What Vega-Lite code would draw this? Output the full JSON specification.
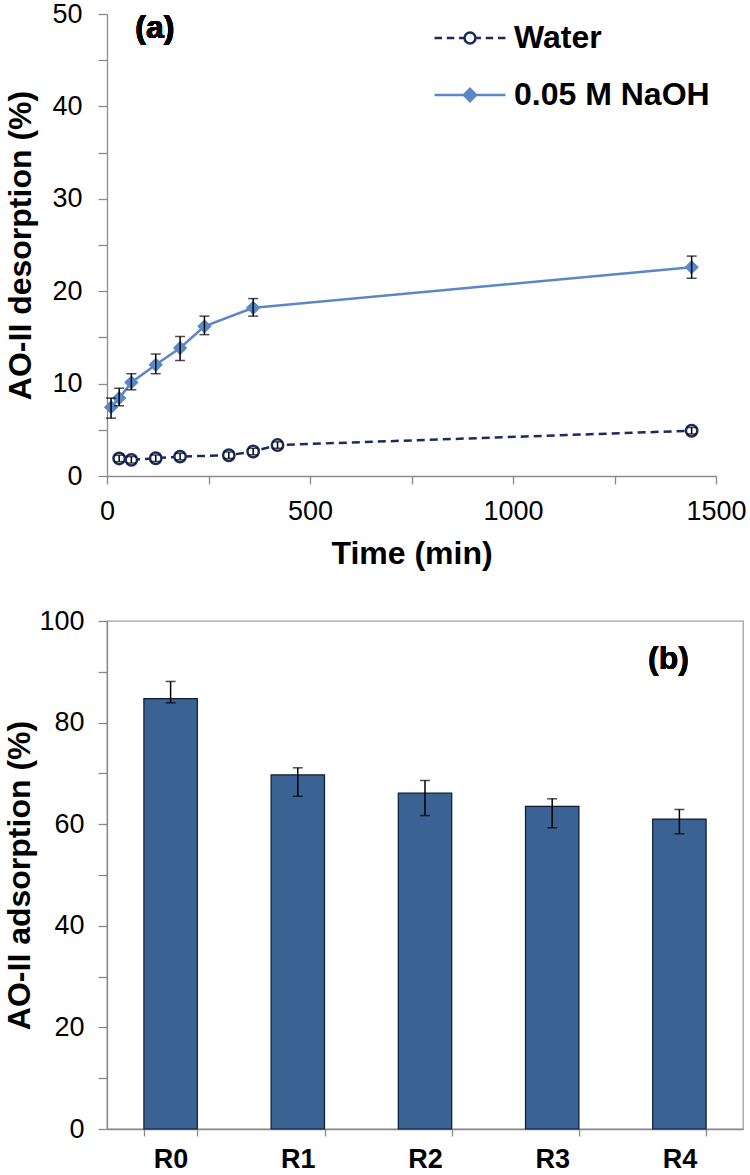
{
  "$schema": "https://vega.github.io/schema/vega-lite/v6.json",
  "background": "white",
  "padding": {"left": 3, "top": 0, "right": 3, "bottom": 0},
  "spacing": 37,
  "config": {
    "view": {"stroke": null},
    "font": "Liberation Sans",
    "axis": {
      "grid": false,
      "domainColor": "#8a8a8a",
      "tickColor": "#8a8a8a",
      "domainWidth": 1.3,
      "tickWidth": 1.3,
      "labelFont": "Liberation Sans",
      "titleFont": "Liberation Sans",
      "labelColor": "#000000",
      "titleColor": "#000000",
      "labelFontSize": 27,
      "titleFontSize": 32,
      "titleFontWeight": "bold",
      "labelFontWeight": "normal"
    }
  },
  "vconcat": [
    {
      "width": 609,
      "height": 462,
      "data": {
        "values": [
          {"series": "Water", "time": 30, "value": 1.9, "lo": 1.55, "hi": 2.25},
          {"series": "Water", "time": 60, "value": 1.75, "lo": 1.4, "hi": 2.1},
          {"series": "Water", "time": 120, "value": 1.92, "lo": 1.57, "hi": 2.27},
          {"series": "Water", "time": 180, "value": 2.1, "lo": 1.75, "hi": 2.45},
          {"series": "Water", "time": 300, "value": 2.25, "lo": 1.9, "hi": 2.6},
          {"series": "Water", "time": 360, "value": 2.65, "lo": 2.3, "hi": 3.0},
          {"series": "Water", "time": 420, "value": 3.35, "lo": 3.0, "hi": 3.7},
          {"series": "Water", "time": 1440, "value": 4.9, "lo": 4.55, "hi": 5.25},
          {"series": "0.05 M NaOH", "time": 10, "value": 7.45, "lo": 6.26, "hi": 8.43},
          {"series": "0.05 M NaOH", "time": 30, "value": 8.43, "lo": 7.6, "hi": 9.5},
          {"series": "0.05 M NaOH", "time": 60, "value": 10.13, "lo": 9.33, "hi": 11.07},
          {"series": "0.05 M NaOH", "time": 120, "value": 12.04, "lo": 11.07, "hi": 13.2},
          {"series": "0.05 M NaOH", "time": 180, "value": 13.85, "lo": 12.5, "hi": 15.1},
          {"series": "0.05 M NaOH", "time": 240, "value": 16.2, "lo": 15.3, "hi": 17.3},
          {"series": "0.05 M NaOH", "time": 360, "value": 18.2, "lo": 17.3, "hi": 19.2},
          {"series": "0.05 M NaOH", "time": 1440, "value": 22.6, "lo": 21.4, "hi": 23.8}
        ]
      },
      "layer": [
        {
          "mark": {"type": "point", "filled": true, "opacity": 0, "size": 745, "strokeWidth": 2.5},
          "encoding": {
            "x": {
              "field": "time", "type": "quantitative",
              "scale": {"domain": [0, 1500], "nice": false},
              "axis": {
                "title": "Time (min)",
                "format": "d",
                "values": [0, 250, 500, 750, 1000, 1250, 1500],
                "labelExpr": "datum.value % 500 === 0 ? datum.label : ''",
                "tickSize": 8, "labelPadding": 14, "titlePadding": 14, "labelFlush": false
              }
            },
            "y": {
              "field": "value", "type": "quantitative",
              "scale": {"domain": [0, 50], "nice": false},
              "axis": {
                "title": "AO-II desorption (%)",
                "values": [0, 5, 10, 15, 20, 25, 30, 35, 40, 45, 50],
                "labelExpr": "datum.value % 10 === 0 ? datum.label : ''",
                "tickSize": 9, "labelPadding": 16, "titlePadding": 14
              }
            },
            "shape": {
              "field": "series", "type": "nominal",
              "scale": {
                "domain": ["Water", "0.05 M NaOH"],
                "range": [
                  "M-2.6,0H-2.05M-1.7,0H-1.15M-0.8,0H-0.4M0.4,0H0.8M1.15,0H1.7M2.05,0H2.6M0.4,0A0.4,0.4,0,1,1,-0.4,0A0.4,0.4,0,1,1,0.4,0Z",
                  "M-2.6,0H2.6M0,-0.45L0.45,0L0,0.45L-0.45,0Z"
                ]
              },
              "legend": {
                "orient": "none", "legendX": 347, "legendY": 8,
                "title": null, "padding": 0,
                "symbolSize": 745, "symbolStrokeWidth": 2.5, "symbolOpacity": 1,
                "labelFontSize": 32, "labelFontWeight": "bold", "labelFont": "Liberation Sans",
                "labelColor": "#000000", "labelOffset": 28, "rowPadding": 25, "labelLimit": 400
              }
            },
            "fill": {
              "field": "series", "type": "nominal",
              "scale": {"domain": ["Water", "0.05 M NaOH"], "range": ["#ffffff", "#5a87c5"]},
              "legend": {
                "orient": "none", "legendX": 347, "legendY": 8,
                "title": null, "padding": 0,
                "symbolSize": 745, "symbolStrokeWidth": 2.5, "symbolOpacity": 1,
                "labelFontSize": 32, "labelFontWeight": "bold", "labelFont": "Liberation Sans",
                "labelColor": "#000000", "labelOffset": 28, "rowPadding": 25, "labelLimit": 400
              }
            },
            "stroke": {
              "field": "series", "type": "nominal",
              "scale": {"domain": ["Water", "0.05 M NaOH"], "range": ["#1b2b5e", "#5a87c5"]},
              "legend": {
                "orient": "none", "legendX": 347, "legendY": 8,
                "title": null, "padding": 0,
                "symbolSize": 745, "symbolStrokeWidth": 2.5, "symbolOpacity": 1,
                "labelFontSize": 32, "labelFontWeight": "bold", "labelFont": "Liberation Sans",
                "labelColor": "#000000", "labelOffset": 28, "rowPadding": 25, "labelLimit": 400
              }
            }
          }
        },
        {
          "transform": [{"filter": "datum.series === 'Water'"}],
          "mark": {"type": "line", "strokeWidth": 2.5, "color": "#1b2b5e", "strokeDash": [8, 5]},
          "encoding": {
            "x": {"field": "time", "type": "quantitative", "title": "Time (min)"},
            "y": {"field": "value", "type": "quantitative", "title": "AO-II desorption (%)"}
          }
        },
        {
          "transform": [{"filter": "datum.series === '0.05 M NaOH'"}],
          "mark": {"type": "line", "strokeWidth": 2.5, "color": "#5a87c5"},
          "encoding": {
            "x": {"field": "time", "type": "quantitative", "title": "Time (min)"},
            "y": {"field": "value", "type": "quantitative", "title": "AO-II desorption (%)"}
          }
        },
        {
          "transform": [{"filter": "datum.series === 'Water'"}],
          "mark": {"type": "point", "shape": "circle", "strokeWidth": 2.5, "opacity": 1, "size": 130, "filled": true, "fill": "#ffffff", "stroke": "#1b2b5e"},
          "encoding": {
            "x": {"field": "time", "type": "quantitative", "title": "Time (min)"},
            "y": {"field": "value", "type": "quantitative", "title": "AO-II desorption (%)"}
          }
        },
        {
          "transform": [{"filter": "datum.series === '0.05 M NaOH'"}],
          "mark": {"type": "point", "shape": "diamond", "strokeWidth": 1.5, "opacity": 1, "size": 150, "filled": true, "fill": "#5a87c5", "stroke": "#5a87c5"},
          "encoding": {
            "x": {"field": "time", "type": "quantitative", "title": "Time (min)"},
            "y": {"field": "value", "type": "quantitative", "title": "AO-II desorption (%)"}
          }
        },
        {
          "mark": {"type": "errorbar", "color": "#000000", "thickness": 1.5, "ticks": {"size": 10}},
          "encoding": {
            "x": {"field": "time", "type": "quantitative", "title": "Time (min)"},
            "y": {"field": "lo", "type": "quantitative", "title": "AO-II desorption (%)"},
            "y2": {"field": "hi"}
          }
        },
        {
          "mark": {"type": "text", "fontSize": 32, "fontWeight": "bold", "font": "Liberation Sans", "color": "#000000"},
          "encoding": {
            "x": {"datum": 118, "type": "quantitative"},
            "y": {"datum": 48.5, "type": "quantitative"},
            "text": {"value": "(a)"}
          }
        }
      ]
    },
    {
      "width": 636,
      "height": 508,
      "view": {"stroke": "#a0a0a0", "strokeWidth": 1.3},
      "data": {
        "values": [
          {"run": "R0", "ads": 84.7, "lo": 83.9, "hi": 88.1},
          {"run": "R1", "ads": 69.7, "lo": 65.5, "hi": 71.1},
          {"run": "R2", "ads": 66.1, "lo": 61.7, "hi": 68.6},
          {"run": "R3", "ads": 63.5, "lo": 59.3, "hi": 65.0},
          {"run": "R4", "ads": 61.0, "lo": 58.1, "hi": 62.9}
        ]
      },
      "layer": [
        {
          "mark": {"type": "bar", "color": "#3a6293", "stroke": "#0d1a33", "strokeWidth": 1.2},
          "encoding": {
            "x": {
              "field": "run", "type": "nominal", "sort": null,
              "scale": {"paddingInner": 0.58, "paddingOuter": 0.29},
              "axis": {
                "title": null, "labelAngle": 0, "labelFontWeight": "bold", "labelFontSize": 27,
                "tickBand": "extent", "tickSize": 7, "labelPadding": 10
              }
            },
            "y": {
              "field": "ads", "type": "quantitative",
              "scale": {"domain": [0, 100], "nice": false},
              "axis": {
                "title": "AO-II adsorption (%)",
                "values": [0, 10, 20, 30, 40, 50, 60, 70, 80, 90, 100],
                "labelExpr": "datum.value % 20 === 0 ? datum.label : ''",
                "tickSize": 9, "labelPadding": 14, "titlePadding": 2
              }
            }
          }
        },
        {
          "mark": {"type": "errorbar", "color": "#000000", "thickness": 1.5, "ticks": {"size": 10}},
          "encoding": {
            "x": {"field": "run", "type": "nominal", "sort": null},
            "y": {"field": "lo", "type": "quantitative", "title": "AO-II adsorption (%)"},
            "y2": {"field": "hi"}
          }
        },
        {
          "mark": {"type": "text", "fontSize": 32, "fontWeight": "bold", "font": "Liberation Sans", "color": "#000000", "dx": -11},
          "encoding": {
            "x": {"datum": "R4", "type": "nominal"},
            "y": {"datum": 92.5, "type": "quantitative"},
            "text": {"value": "(b)"}
          }
        }
      ]
    }
  ]
}
